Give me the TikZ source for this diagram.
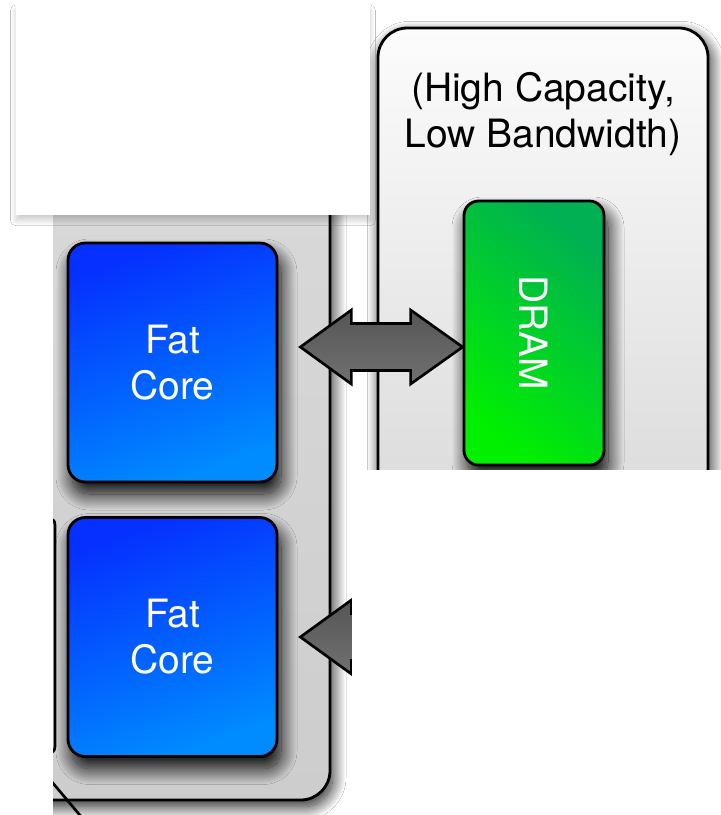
\documentclass[tikz,border=0pt]{standalone}
\usepackage{fontspec}
\setmainfont{TeX Gyre Heros}
\usetikzlibrary{calc,shadows.blur}

\definecolor{coretop}{HTML}{0530FF}
\definecolor{corebot}{HTML}{008CFF}
\definecolor{dramlo}{HTML}{00F000}
\definecolor{dramhi}{HTML}{00B052}
\definecolor{memtop}{HTML}{FCFCFC}
\definecolor{membot}{HTML}{C4C4C4}
\definecolor{chiptop}{HTML}{DADADA}
\definecolor{chipbot}{HTML}{CDCDCD}
\definecolor{arrowtop}{HTML}{555555}
\definecolor{arrowbot}{HTML}{717171}

\tikzset{
  big font/.style={font=\fontsize{29.25}{34.5}\selectfont},
  panel shadow/.style={blur shadow={shadow xshift=2pt, shadow yshift=-5pt,
      shadow blur radius=10pt, shadow blur steps=30, shadow opacity=90}},
  box shadow/.style={blur shadow={shadow xshift=3pt, shadow yshift=-9pt,
      shadow blur radius=12pt, shadow blur steps=30, shadow opacity=100}},
  panel/.style={draw=black, line width=2.1pt, rounded corners=22pt,
      inner sep=0pt, panel shadow},
  core/.style={draw=black, line width=2.1pt, rounded corners=13pt,
      minimum width=156.75pt, minimum height=179.25pt,
      top color=coretop, bottom color=corebot, shading angle=20,
      text=white, align=center, inner sep=0pt, big font, box shadow},
  dramcell/.style={draw=black, line width=2.1pt, rounded corners=11pt,
      minimum width=105pt, minimum height=198pt,
      top color=dramhi, bottom color=dramlo, shading angle=-40,
      text=white, inner sep=0pt, big font, box shadow},
  fat arrow/.style={draw=black, line width=2pt, line join=miter,
      top color=arrowtop, bottom color=arrowbot},
}

% wide double-headed arrow between two tips on the same row
\newcommand\widearrow[2]{%
  \path[fat arrow] (#1) -- ++(51,-37) -- ++(0,13.5)
    -- ($(#2)+(-52,-23.5)$) -- ++(0,-13.5) -- (#2) -- ++(-52,37)
    -- ++(0,-13.5) -- ($(#1)+(51,23.5)$) -- ++(0,13.5) -- cycle;}

\begin{document}
\begin{tikzpicture}[x=0.75pt,y=-0.75pt]
\useasboundingbox (0,0) rectangle (721,815);
\clip (0,0) rectangle (721,815);
\fill[white] (0,0) rectangle (721,815);

\begin{scope}
  \clip (53,-20) rectangle (740,840);
  % processor chip holding the cores
  \node[panel, minimum width=277.5pt, minimum height=525pt,
        top color=chiptop, bottom color=chipbot] (chip) at (145,450) {};
  % off-chip memory module
  \node[panel, minimum width=247.5pt, minimum height=609pt,
        top color=memtop, bottom color=membot] (mem) at (543,434) {};
  \node[big font, align=center, inner sep=0pt] (memcap) at (543,114)
        {(High Capacity,\\Low Bandwidth)};

  % edge of the neighbouring block
  \draw[line width=2pt] (51,519) .. controls (55,521) .. (55,530)
        -- (55,742) .. controls (55,750) .. (51,753);
  \draw[line width=2pt] (52,782) -- (84,820);

  \node[core] (core1) at (172.5,362.5) {Fat\\Core};
  \node[core] (core2) at (172.5,637) {Fat\\Core};
  \node[dramcell] (dram) at (534,333) {\rotatebox{-90}{DRAM}};

  \coordinate (a1l) at ($(core1.east)+(22,-15.5)$);
  \coordinate (a1r) at (a1l -| dram.west);
  \widearrow{a1l}{a1r}
  \coordinate (a2l) at ($(core2.east)+(22,0)$);
  \coordinate (a2r) at (a2l -| dram.west);
  \widearrow{a2l}{a2r}
\end{scope}

% blank cover panels
\fill[white, blur shadow={shadow xshift=0pt, shadow yshift=-4pt,
      shadow blur radius=4pt, shadow blur steps=20, shadow opacity=20}]
      (16,5) rectangle (370,215);
\fill[white] (352,470) rectangle (740,840);
\end{tikzpicture}
\end{document}
